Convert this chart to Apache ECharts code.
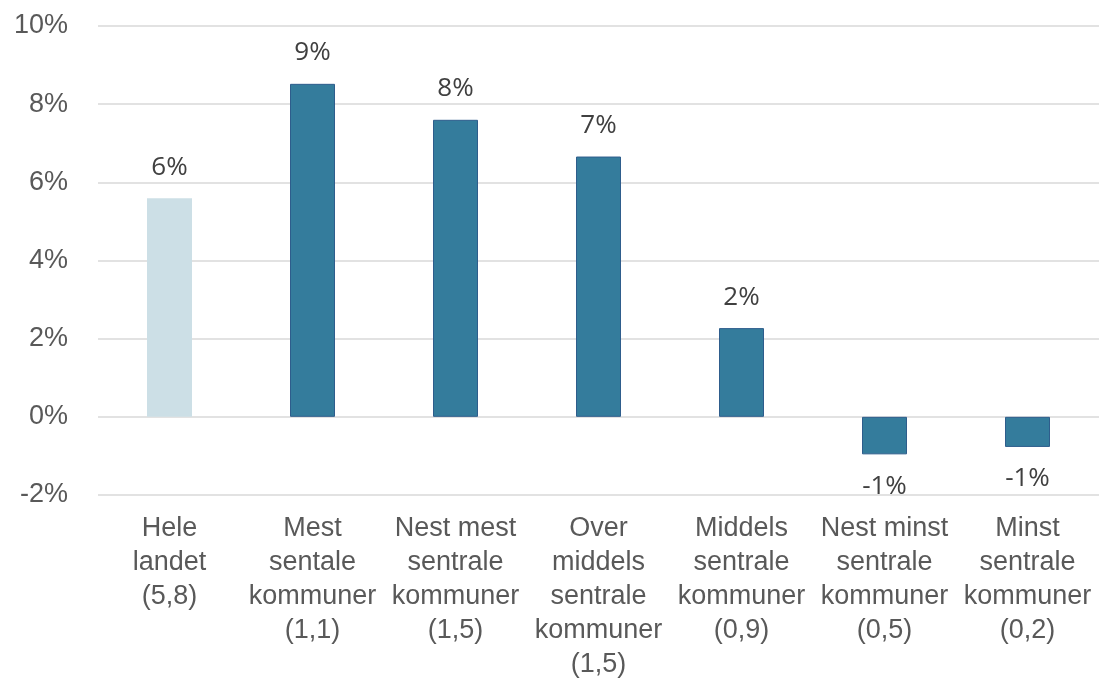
<!DOCTYPE html>
<html>
<head>
<meta charset="utf-8">
<script src="https://cdn.jsdelivr.net/npm/echarts@6/dist/echarts.min.js"></script>
<style>
html,body{margin:0;padding:0;background:#fff;}
#chart{width:1102px;height:682px;}
</style>
</head>
<body>
<div id="chart"></div>
<script>
var categories = [
  "Hele\nlandet\n(5,8)",
  "Mest\nsentale\nkommuner\n(1,1)",
  "Nest mest\nsentrale\nkommuner\n(1,5)",
  "Over\nmiddels\nsentrale\nkommuner\n(1,5)",
  "Middels\nsentrale\nkommuner\n(0,9)",
  "Nest minst\nsentrale\nkommuner\n(0,5)",
  "Minst\nsentrale\nkommuner\n(0,2)"
];
var values = [5.59, 8.52, 7.60, 6.66, 2.27, -0.96, -0.77];
var yMin = -2, yMax = 10, yStep = 2;

var lightFill = '#CCDFE6';
var darkFill = '#347C9C';
var darkBorder = '#2E5D8C';

var data = values.map(function (v, i) {
  return {
    value: v,
    itemStyle: i === 0
      ? { color: lightFill, borderWidth: 0 }
      : { color: darkFill, borderColor: darkBorder, borderWidth: 1 },
    label: { position: v >= 0 ? 'top' : 'bottom', distance: v >= 0 ? 15 : 16 }
  };
});

var chart = echarts.init(document.getElementById('chart'));
chart.setOption({
  animation: false,
  backgroundColor: '#ffffff',
  grid: { left: 98, right: 3, top: 26, bottom: 186, containLabel: false },
  xAxis: {
    type: 'category',
    data: categories,
    position: 'bottom',
    axisLine: { show: false, onZero: false },
    axisTick: { show: false },
    axisLabel: {
      interval: 0,
      margin: 17,
      color: '#595959',
      fontFamily: 'Liberation Sans, Arial, sans-serif',
      fontSize: 27,
      lineHeight: 34
    }
  },
  yAxis: {
    type: 'value',
    min: yMin,
    max: yMax,
    interval: yStep,
    axisLine: { show: false },
    axisTick: { show: false },
    splitLine: { lineStyle: { color: '#D9D9D9', width: 1.5 } },
    axisLabel: {
      margin: 30,
      color: '#595959',
      fontFamily: 'Liberation Sans, Arial, sans-serif',
      fontSize: 27,
      formatter: function (v) { return v + '%'; }
    }
  },
  series: [{
    type: 'bar',
    data: data,
    barWidth: 45,
    label: {
      show: true,
      color: '#404040',
      fontFamily: 'Open Sans, Liberation Sans, sans-serif',
      fontSize: 26,
      lineHeight: 32,
      formatter: function (p) { return Math.round(p.value) + '%'; }
    }
  }]
});
</script>
</body>
</html>
